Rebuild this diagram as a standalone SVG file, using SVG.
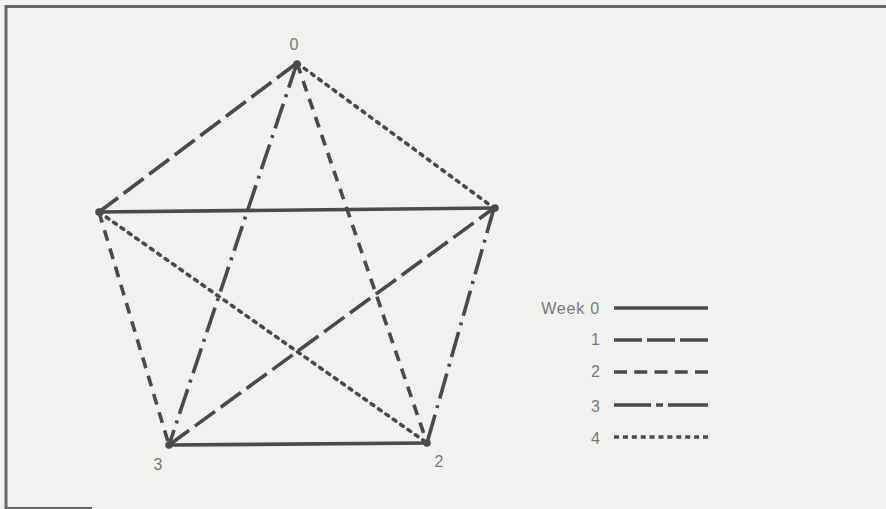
<svg xmlns="http://www.w3.org/2000/svg" width="886" height="509" viewBox="0 0 886 509">
<style>
.e{stroke:#4a4a4a;stroke-width:3.6;fill:none}
.w0{}
.w1{stroke-dasharray:25 7}
.w2{stroke-dasharray:11 8}
.w3{stroke-dasharray:26 7 3 7}
.w4{stroke-dasharray:3 6;stroke-linecap:round;stroke-width:3.6}
.lg{stroke:#4a4a4a;stroke-width:3.4;fill:none}
.l1{stroke-dasharray:28 5}
.l2{stroke-dasharray:13 7.25}
.l3{stroke-dasharray:37 5 7 5 40 5}
.l4{stroke-dasharray:5 3.9}
text{font-family:"Liberation Sans",Arial,sans-serif;fill:#7a7a7a;font-size:16px}
.wk{letter-spacing:0.8px}
.node{fill:#4a4a4a}
</style>
<rect x="0" y="0" width="886" height="509" fill="#f1f1ef"/>
<g id="frame" stroke="#666" fill="none">
<line x1="5" y1="6.5" x2="886" y2="6.5" stroke-width="3"/>
<line x1="6" y1="5" x2="6" y2="509" stroke-width="3"/>
<line x1="5" y1="508" x2="92" y2="508" stroke-width="2"/>
</g>
<g id="connectors">
<line class="e w0" x1="99" y1="212" x2="494" y2="208"/>
<line class="e w0" x1="169" y1="445" x2="427" y2="443"/>
<line class="e w1" x1="297" y1="63" x2="99" y2="212"/>
<line class="e w1" x1="169" y1="445" x2="494" y2="208"/>
<line class="e w2" x1="99" y1="212" x2="169" y2="445"/>
<line class="e w2" x1="297" y1="63" x2="427" y2="443"/>
<line class="e w3" x1="297" y1="63" x2="169" y2="445"/>
<line class="e w3" x1="494" y1="208" x2="427" y2="443"/>
<line class="e w4" x1="297" y1="63" x2="494" y2="208"/>
<line class="e w4" x1="99" y1="212" x2="427" y2="443"/>
</g>
<g id="node0"><circle class="node" cx="297" cy="64" r="3.8"/><text x="294" y="50" text-anchor="middle">0</text></g>
<g id="node1"><circle class="node" cx="495" cy="208" r="3.8"/></g>
<g id="node2"><circle class="node" cx="427" cy="443" r="3.8"/><text x="439" y="467" text-anchor="middle">2</text></g>
<g id="node3"><circle class="node" cx="169" cy="445" r="3.8"/><text x="158" y="470" text-anchor="middle">3</text></g>
<g id="node4"><circle class="node" cx="99" cy="212" r="3.8"/></g>
<g id="legend">
<text class="wk" x="600" y="314" text-anchor="end">Week 0</text>
<line class="lg" x1="614" y1="308" x2="708" y2="308"/>
<text x="600" y="345" text-anchor="end">1</text>
<line class="lg l1" x1="614" y1="340" x2="708" y2="340"/>
<text x="600" y="377" text-anchor="end">2</text>
<line class="lg l2" x1="614" y1="372" x2="708" y2="372"/>
<text x="600" y="412" text-anchor="end">3</text>
<line class="lg l3" x1="614" y1="405" x2="708" y2="405"/>
<text x="600" y="444" text-anchor="end">4</text>
<line class="lg l4" x1="614" y1="437" x2="708" y2="437"/>
</g>
</svg>
